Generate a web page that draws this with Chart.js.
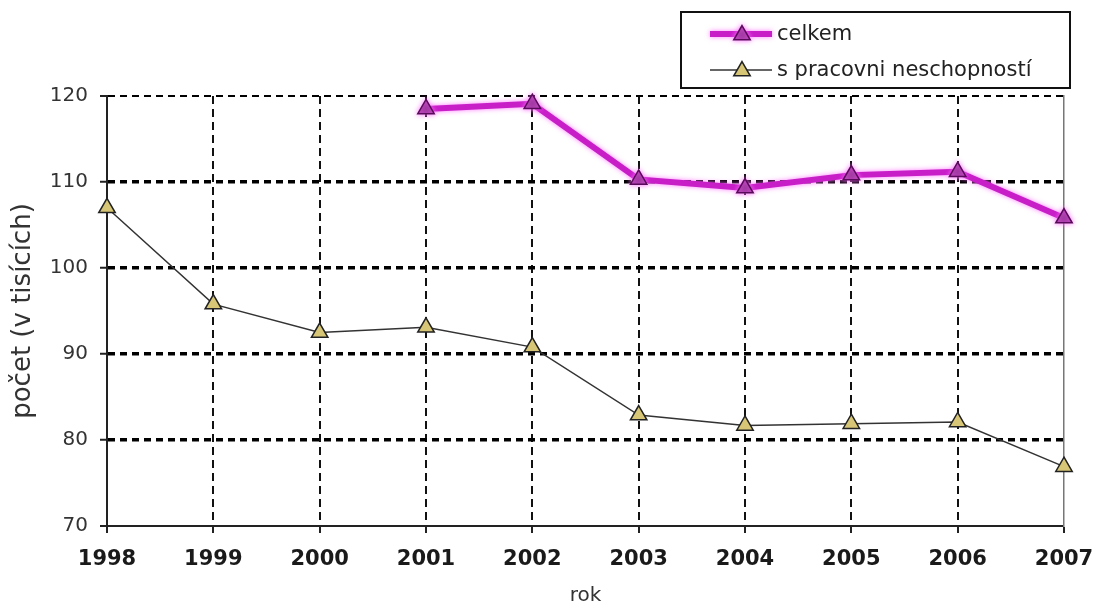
<!DOCTYPE html>
<html><head><meta charset="utf-8">
<script src="https://cdn.jsdelivr.net/npm/chart.js@4.4.1/dist/chart.umd.min.js"></script>
<style>html,body{margin:0;padding:0;background:#fff;} #wrap{width:1096px;height:607px;position:relative;}</style>
</head><body><div id="wrap"><canvas id="c"></canvas></div>
<script>
const years = ['1998','1999','2000','2001','2002','2003','2004','2005','2006','2007'];
const celkem = [null, null, null, 118.5, 119.1, 110.3, 109.3, 110.8, 111.2, 105.8];
const sPracovni = [107.0, 95.8, 92.5, 93.1, 90.8, 82.9, 81.7, 81.9, 82.1, 76.9];
const seriesNames = ['celkem', 's pracovni neschopností'];
const yTicks = [70, 80, 90, 100, 110, 120];
const yTitle = 'počet (v tisících)';
const xTitle = 'rok';

const FONT = '"DejaVu Sans", sans-serif';

function tri(ctx, x, y, r) {
  ctx.beginPath();
  for (let k = 0; k < 3; k++) {
    const a = k * 2 * Math.PI / 3;
    const px = x + Math.sin(a) * r, py = y - Math.cos(a) * r;
    if (k === 0) ctx.moveTo(px, py); else ctx.lineTo(px, py);
  }
  ctx.closePath();
}

const glowPlugin = {
  id: 'glow',
  beforeDatasetDraw(chart, args) {
    if (args.index === 0) {
      chart.ctx.save();
      chart.ctx.shadowColor = 'rgba(255,110,255,0.9)';
      chart.ctx.shadowBlur = 5;
    }
  },
  afterDatasetDraw(chart, args) {
    if (args.index === 0) chart.ctx.restore();
  }
};

const legendBox = {
  id: 'legendBox',
  afterDraw(chart) {
    const ctx = chart.ctx;
    const x0 = 681, y0 = 12, w = 389, h = 76;
    ctx.save();
    ctx.fillStyle = '#fff';
    ctx.fillRect(x0, y0, w, h);
    ctx.lineWidth = 2;
    ctx.strokeStyle = '#111';
    ctx.strokeRect(x0, y0, w, h);
    chart.data.datasets.forEach((ds, i) => {
      const cy = y0 + 22 + i * 36;
      ctx.save();
      if (i === 0) { ctx.shadowColor = 'rgba(255,110,255,0.9)'; ctx.shadowBlur = 5; }
      ctx.strokeStyle = ds.borderColor;
      ctx.lineWidth = ds.borderWidth;
      ctx.beginPath();
      ctx.moveTo(710, cy);
      ctx.lineTo(772, cy);
      ctx.stroke();
      tri(ctx, 742, cy + 1, ds.pointRadius);
      ctx.fillStyle = ds.pointBackgroundColor;
      ctx.fill();
      ctx.lineWidth = ds.pointBorderWidth;
      ctx.strokeStyle = ds.pointBorderColor;
      ctx.stroke();
      ctx.restore();
      ctx.fillStyle = '#222';
      ctx.font = '21px ' + FONT;
      ctx.textBaseline = 'middle';
      ctx.textAlign = 'left';
      ctx.fillText(ds.label, 777, cy + 1);
    });
    ctx.restore();
  }
};

new Chart(document.getElementById('c'), {
  type: 'line',
  data: {
    labels: years,
    datasets: [
      {
        label: seriesNames[0],
        data: celkem,
        borderColor: '#c81ec8',
        borderWidth: 6,
        pointStyle: 'triangle',
        pointRadius: 9.5,
        pointBackgroundColor: '#993399',
        pointBorderColor: '#5a0a5a',
        pointBorderWidth: 1.5,
        tension: 0,
        clip: false
      },
      {
        label: seriesNames[1],
        data: sPracovni,
        borderColor: '#333333',
        borderWidth: 1.5,
        pointStyle: 'triangle',
        pointRadius: 9.5,
        pointBackgroundColor: '#d6c676',
        pointBorderColor: '#222222',
        pointBorderWidth: 1.5,
        tension: 0,
        clip: false
      }
    ]
  },
  options: {
    responsive: true,
    maintainAspectRatio: false,
    animation: false,
    layout: { padding: { top: 96, right: 32, left: 0, bottom: 0 } },
    plugins: { legend: { display: false }, tooltip: { enabled: false } },
    scales: {
      x: {
        type: 'category',
        offset: false,
        afterFit(s) { s.height = 81; s.paddingRight = 0; s.paddingLeft = 0; },
        grid: {
          display: true,
          drawOnChartArea: true,
          drawTicks: true,
          tickLength: 7,
          color: '#111',
          lineWidth: (c) => (c.index === 0 || c.index === years.length - 1) ? 0 : 2,
          tickWidth: 2,
          tickColor: '#222'
        },
        border: { display: true, color: '#222', width: 2, dash: [8, 5] },
        ticks: {
          color: '#1a1a1a',
          font: { family: FONT, size: 21, weight: 'bold' },
          padding: 14,
          maxRotation: 0,
          autoSkip: false
        },
        title: {
          display: true,
          text: xTitle,
          color: '#333',
          font: { family: FONT, size: 20, lineHeight: 1 },
          padding: { top: 0, bottom: 1 }
        }
      },
      y: {
        min: 70,
        max: 120,
        afterFit(s) { s.width = 107; s.paddingTop = 0; s.paddingBottom = 0; },
        afterBuildTicks(s) { s.ticks = yTicks.map(v => ({ value: v })); },
        grid: {
          display: true,
          drawTicks: true,
          tickLength: 7,
          color: '#000',
          lineWidth: (c) => c.tick && c.tick.value === 70 ? 0 : (c.tick && c.tick.value === 120 ? 2 : 3.5),
          tickWidth: 2,
          tickColor: '#222'
        },
        border: { display: true, color: '#222', width: 2, dash: [7, 5] },
        ticks: {
          color: '#333',
          font: { family: FONT, size: 20 },
          padding: 12
        },
        title: {
          display: true,
          text: yTitle,
          color: '#333',
          font: { family: FONT, size: 26 },
          padding: { top: 8, bottom: 0 }
        }
      },
      y2: {
        position: 'right',
        min: 70,
        max: 120,
        afterFit(s) { s.width = 0; s.paddingTop = 0; s.paddingBottom = 0; },
        grid: { display: false, drawTicks: false },
        ticks: { display: false },
        border: { display: true, color: '#777', width: 1.5 }
      }
    }
  },
  plugins: [glowPlugin, legendBox]
});
</script>
</body></html>
